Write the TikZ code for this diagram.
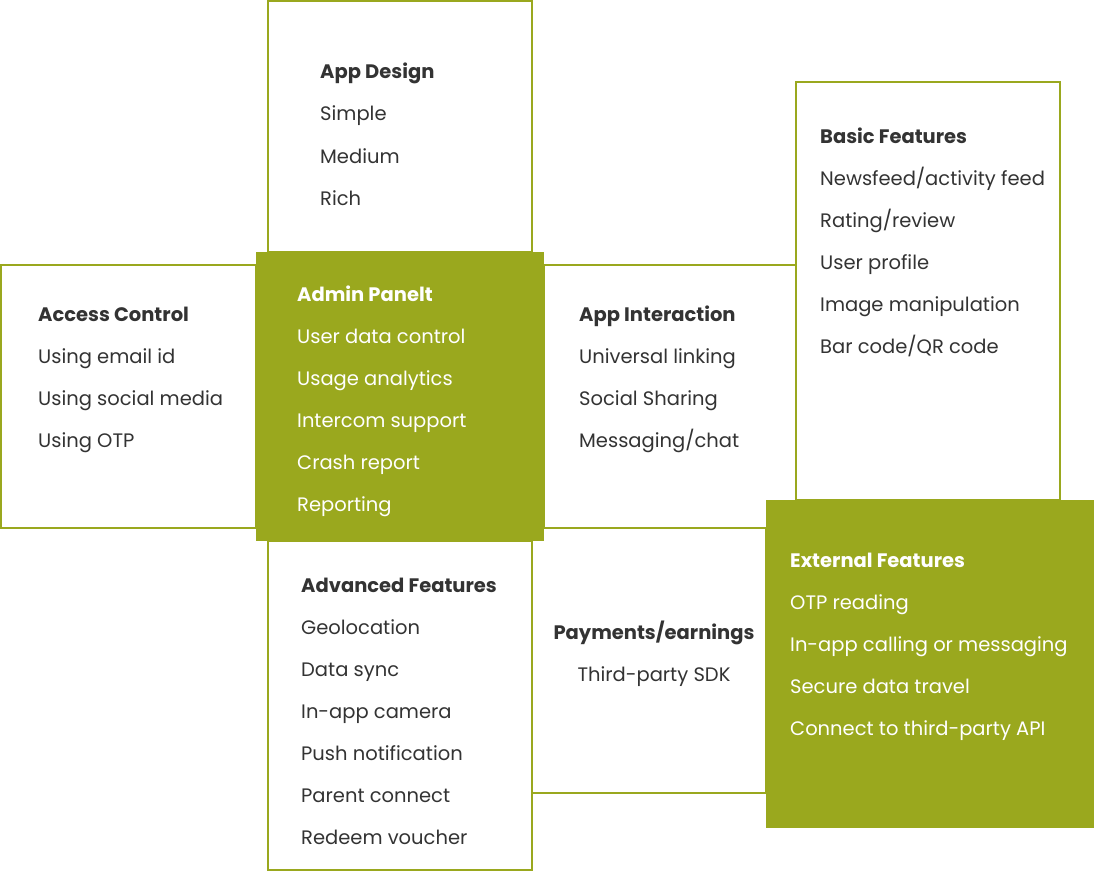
\documentclass[tikz,border=0pt]{standalone}
\usepackage{fontspec}
\setmainfont{Poppins}
\definecolor{olive}{HTML}{9AA81E}
\definecolor{txt}{HTML}{333333}
\tikzset{x=1pt,y=-1pt,
 obox/.style={draw=olive,line width=1.3pt,fill=white},
 fbox/.style={fill=olive},
 it/.style={anchor=west,inner sep=0pt,text height=10pt,text depth=0pt,text=txt,font=\fontsize{19.5}{22}\selectfont},
 hd/.style={it,font=\fontsize{19.5}{22}\selectfont\bfseries},
 wit/.style={it,text=white},
 whd/.style={hd,text=white}}
\begin{document}
\begin{tikzpicture}
\useasboundingbox (0,0) rectangle (1094,872);
\draw[obox] (268,1) rectangle (532,252);
\draw[obox] (796,82) rectangle (1060,500);
\draw[obox] (1,265) rectangle (256,528);
\draw[obox] (544,265) rectangle (796,528);
\draw[obox] (268,541) rectangle (532,870);
\draw[obox] (532,528) rectangle (766,793);
\fill[fbox] (256,252) rectangle (544,541);
\fill[fbox] (766,500) rectangle (1094,828);
% App Design
\node[hd] (ad0) at (320,74) {App Design};
\node[it] (ad1) at (320,116) {Simple};
\node[it] (ad2) at (320,158) {Medium};
\node[it] (ad3) at (320,200) {Rich};
% Access Control
\node[hd] (ac0) at (38,316) {Access Control};
\node[it] (ac1) at (38,358) {Using email id};
\node[it] (ac2) at (38,400) {Using social media};
\node[it] (ac3) at (38,442) {Using OTP};
% Admin
\node[whd] (am0) at (297,296) {Admin Panelt};
\node[wit] (am1) at (297,338) {User data control};
\node[wit] (am2) at (297,380) {Usage analytics};
\node[wit] (am3) at (297,422) {Intercom support};
\node[wit] (am4) at (297,464) {Crash report};
\node[wit] (am5) at (297,506) {Reporting};
% App Interaction
\node[hd] (ai0) at (579,316) {App Interaction};
\node[it] (ai1) at (579,358) {Universal linking};
\node[it] (ai2) at (579,400) {Social Sharing};
\node[it] (ai3) at (579,442) {Messaging/chat};
% Basic
\node[hd] (bf0) at (820,138) {Basic Features};
\node[it] (bf1) at (820,180) {Newsfeed/activity feed};
\node[it] (bf2) at (820,222) {Rating/review};
\node[it] (bf3) at (820,264) {User profile};
\node[it] (bf4) at (820,306) {Image manipulation};
\node[it] (bf5) at (820,348) {Bar code/QR code};
% Advanced
\node[hd] (av0) at (301,587) {Advanced Features};
\node[it] (av1) at (301,629) {Geolocation};
\node[it] (av2) at (301,671) {Data sync};
\node[it] (av3) at (301,713) {In-app camera};
\node[it] (av4) at (301,755) {Push notification};
\node[it] (av5) at (301,797) {Parent connect};
\node[it] (av6) at (301,839) {Redeem voucher};
% Payments
\node[hd,anchor=center] (pe0) at (654,634) {Payments/earnings};
\node[it,anchor=center] (pe1) at (654,676) {Third-party SDK};
% External
\node[whd] (ef0) at (790,562) {External Features};
\node[wit] (ef1) at (790,604) {OTP reading};
\node[wit] (ef2) at (790,646) {In-app calling or messaging};
\node[wit] (ef3) at (790,688) {Secure data travel};
\node[wit] (ef4) at (790,730) {Connect to third-party API};
\end{tikzpicture}
\end{document}
